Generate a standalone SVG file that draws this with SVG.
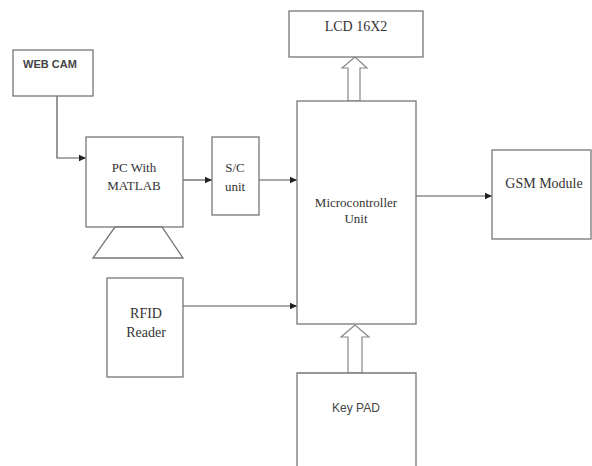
<svg xmlns="http://www.w3.org/2000/svg" width="592" height="466" viewBox="0 0 592 466">
<defs>
<marker id="ah" markerWidth="8" markerHeight="8" refX="7" refY="4" orient="auto" markerUnits="userSpaceOnUse">
<path d="M0,0.8 L7,4 L0,7.2 Z" fill="#222"/>
</marker>
<style>
.box{fill:#fff;stroke:#777;stroke-width:1.3}
.ln{fill:none;stroke:#555;stroke-width:1.2}
.big{fill:#fff;stroke:#888;stroke-width:1.2}
.serif{font-family:"Liberation Serif","Times New Roman",serif;fill:#333;text-anchor:middle}
.sans{font-family:"Liberation Sans",Arial,sans-serif;fill:#444;text-anchor:middle}
</style>
</defs>
<rect width="592" height="466" fill="#fff"/>
<g id="connectors">
<polyline class="ln" points="57,96 57,158 86,158" marker-end="url(#ah)"/>
<line class="ln" x1="183" y1="180" x2="212" y2="180" marker-end="url(#ah)"/>
<line class="ln" x1="259" y1="180" x2="297" y2="180" marker-end="url(#ah)"/>
<line class="ln" x1="416" y1="196" x2="492" y2="196" marker-end="url(#ah)"/>
<line class="ln" x1="183" y1="306" x2="297" y2="306" marker-end="url(#ah)"/>
<polygon class="big" points="348,101 348,68 342,68 355,57 367,68 360,68 360,101"/>
<polygon class="big" points="348,373 348,337 341,337 355,325 369,337 362,337 362,373"/>
</g>
<g id="webcam">
<rect class="box" x="13" y="50" width="80" height="46"/>
<text class="sans" x="50" y="68" font-size="11" font-weight="bold">WEB CAM</text>
</g>
<g id="pc">
<rect class="box" x="86" y="137" width="97" height="90"/>
<polygon class="box" points="115,227 162,227 183,258 93,258"/>
<text class="serif" x="134" y="172" font-size="13">PC With</text>
<text class="serif" x="134" y="190" font-size="13">MATLAB</text>
</g>
<g id="sc">
<rect class="box" x="212" y="137" width="47" height="78"/>
<text class="serif" x="235" y="172" font-size="13">S/C</text>
<text class="serif" x="235" y="191" font-size="13">unit</text>
</g>
<g id="lcd">
<rect class="box" x="289" y="11" width="134" height="46"/>
<text class="serif" x="356" y="31" font-size="14">LCD 16X2</text>
</g>
<g id="mcu">
<rect class="box" x="297" y="101" width="119" height="223"/>
<text class="serif" x="356" y="207" font-size="13">Microcontroller</text>
<text class="serif" x="356" y="223" font-size="13">Unit</text>
</g>
<g id="gsm">
<rect class="box" x="492" y="150" width="99" height="89"/>
<text class="serif" x="544" y="188" font-size="14">GSM Module</text>
</g>
<g id="rfid">
<rect class="box" x="107" y="278" width="76" height="99"/>
<text class="serif" x="146" y="318" font-size="14">RFID</text>
<text class="serif" x="146" y="337" font-size="14">Reader</text>
</g>
<g id="keypad">
<path class="box" d="M297,470 L297,373 L416,373 L416,470"/>
<text class="sans" x="356" y="412" font-size="12">Key PAD</text>
</g>
</svg>
